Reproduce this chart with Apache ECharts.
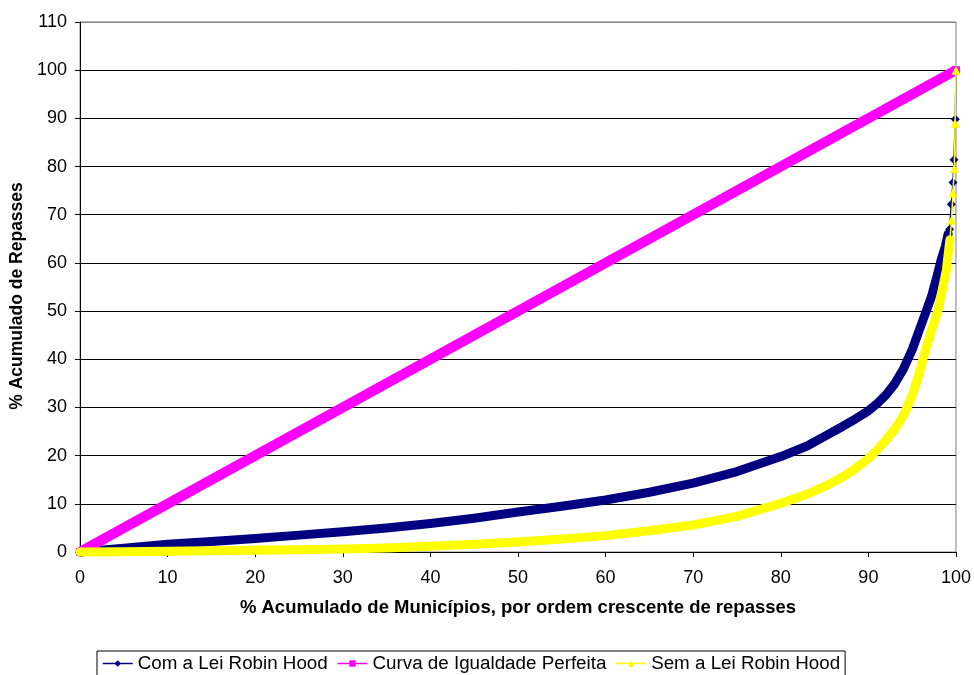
<!DOCTYPE html>
<html>
<head>
<meta charset="utf-8">
<script src="https://cdn.jsdelivr.net/npm/echarts@6/dist/echarts.min.js"></script>
<style>
html,body{margin:0;padding:0;background:#fff;}
#chart{width:974px;height:675px;}
</style>
</head>
<body>
<div id="chart"></div>
<script>
var seriesNames = ['Com a Lei Robin Hood', 'Curva de Igualdade Perfeita', 'Sem a Lei Robin Hood'];
var xTicks = [0, 10, 20, 30, 40, 50, 60, 70, 80, 90, 100];
var yTicks = [0, 10, 20, 30, 40, 50, 60, 70, 80, 90, 100, 110];

// Com a Lei Robin Hood: main body of the curve
var comBody = [[0,0],[5,0.8],[10,1.6],[15,2.2],[20,2.8],[25,3.5],[30,4.2],[35,5.0],[40,5.9],[45,7.0],[50,8.3],[55,9.5],[60,10.8],[65,12.4],[70,14.3],[75,16.7],[80,19.8],[83,22.0],[85,24.0],[87,26.0],[88.5,27.6],[90,29.3],[91,30.8],[92,32.6],[93,34.9],[94,38.0],[95,42.0],[95.7,45.5],[96.5,49.5],[97.2,53.0],[97.8,57.0],[98.3,60.6],[98.8,63.5],[99.1,66.0]];
// Com a Lei Robin Hood: last individual municipalities
var comTail = [[99.1,66.0],[99.28,67.0],[99.47,72.2],[99.66,76.7],[99.77,81.4],[99.92,89.8],[100,100]];

// Curva de Igualdade Perfeita
var igualdade = [[0,0],[100,100]];

// Sem a Lei Robin Hood: main body
var semBody = [[0,0],[5,0.05],[10,0.15],[15,0.25],[20,0.35],[25,0.45],[30,0.6],[35,0.85],[40,1.2],[45,1.6],[50,2.1],[55,2.7],[60,3.4],[65,4.4],[70,5.6],[75,7.4],[80,10.1],[83,12.0],[85,13.6],[87,15.5],[88.5,17.3],[90,19.4],[91,21.2],[92,23.2],[93,25.5],[94,28.3],[95,32.5],[95.8,37.0],[96.4,41.2],[97.2,46.0],[97.95,50.2],[98.5,55.0],[98.9,58.5],[99.3,64.8]];
// Sem a Lei Robin Hood: last municipalities
var semTail = [[99.3,64.8],[99.5,68.9],[99.65,74.5],[99.8,79.6],[99.9,89.0],[100,100]];

var FONT = '"Liberation Sans", Arial, sans-serif';
var chart = echarts.init(document.getElementById('chart'), null, {renderer: 'canvas'});

var splitColors = yTicks.map(function(v){ return v === 110 ? '#808080' : '#000'; });

chart.setOption({
  animation: false,
  backgroundColor: '#ffffff',
  textStyle: {fontFamily: FONT},
  grid: {left: 80, right: 16, top: 22, bottom: 123, show: true, borderColor: '#808080', borderWidth: 1},
  legend: {
    data: seriesNames,
    left: 97, top: 651,
    padding: [3, 5, 4, 5],
    itemGap: 9,
    itemWidth: 30, itemHeight: 8,
    borderColor: '#000', borderWidth: 1,
    textStyle: {fontFamily: FONT, fontSize: 18.8, color: '#000'},
    lineStyle: {width: 1.5}
  },
  xAxis: {
    type: 'value', min: 0, max: 100, interval: 10,
    name: '% Acumulado de Municípios, por ordem crescente de repasses',
    nameLocation: 'middle', nameGap: 46,
    nameTextStyle: {fontFamily: FONT, fontSize: 18.5, fontWeight: 'bold', color: '#000'},
    axisLine: {show: true, lineStyle: {color: '#000', width: 1}},
    axisTick: {show: true, length: 5, lineStyle: {color: '#000'}},
    axisLabel: {fontFamily: FONT, fontSize: 18, color: '#000', margin: 17,
      formatter: function(v){ return xTicks.indexOf(v) >= 0 ? String(v) : ''; }},
    splitLine: {show: false}
  },
  yAxis: {
    type: 'value', min: 0, max: 110, interval: 10,
    name: '% Acumulado de Repasses',
    nameLocation: 'middle', nameGap: 52,
    nameTextStyle: {fontFamily: FONT, fontSize: 17.5, fontWeight: 'bold', color: '#000', padding: [0, 18, 0, 0]},
    axisLine: {show: true, lineStyle: {color: '#000', width: 1}},
    axisTick: {show: true, length: 5, lineStyle: {color: '#000'}},
    axisLabel: {fontFamily: FONT, fontSize: 18, color: '#000', margin: 13,
      formatter: function(v){ return yTicks.indexOf(v) >= 0 ? String(v) : ''; }},
    splitLine: {show: true, lineStyle: {color: splitColors, width: 1}}
  },
  series: [
    {
      name: seriesNames[0], type: 'line', data: comTail, clip: false,
      symbol: 'diamond', symbolSize: 9, showSymbol: true,
      itemStyle: {color: '#000080'}, lineStyle: {color: '#000080', width: 1.5}, z: 3
    },
    {
      name: seriesNames[0], type: 'line', data: comBody, clip: false,
      symbol: 'none', smooth: false,
      itemStyle: {color: '#000080'}, lineStyle: {color: '#000080', width: 9, join: 'round', cap: 'round'}, z: 3
    },
    {
      name: seriesNames[1], type: 'line', data: igualdade, clip: false,
      symbol: 'rect', symbolSize: 8, showSymbol: true,
      itemStyle: {color: '#FF00FF'}, lineStyle: {color: '#FF00FF', width: 10}, z: 4
    },
    {
      name: seriesNames[2], type: 'line', data: semTail, clip: false,
      symbol: 'triangle', symbolSize: 9, showSymbol: true,
      itemStyle: {color: '#FFFF00'}, lineStyle: {color: '#FFFF00', width: 1.5}, z: 5
    },
    {
      name: seriesNames[2], type: 'line', data: semBody, clip: false,
      symbol: 'none', smooth: false,
      itemStyle: {color: '#FFFF00'}, lineStyle: {color: '#FFFF00', width: 9, join: 'round', cap: 'round'}, z: 5
    }
  ]
});
</script>
</body>
</html>
